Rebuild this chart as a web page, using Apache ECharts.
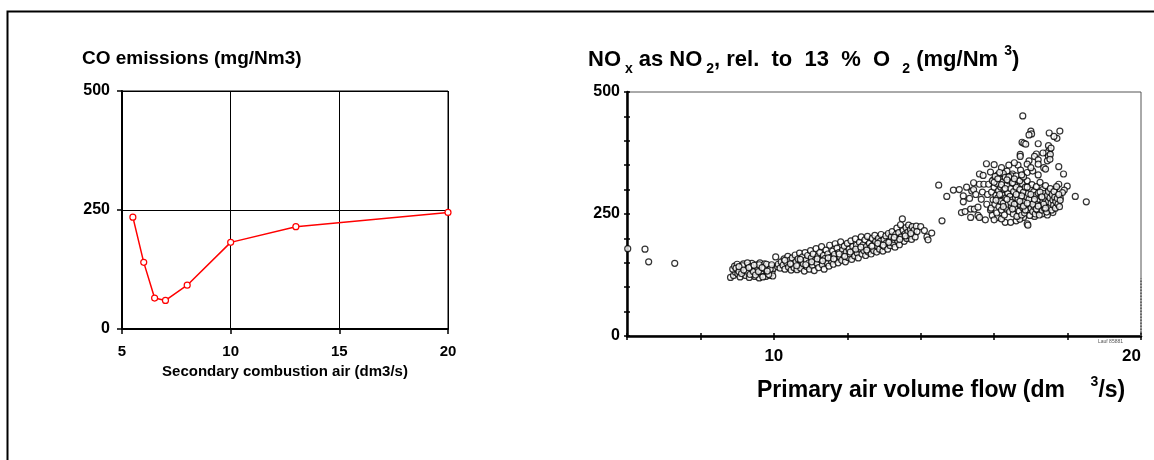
<!DOCTYPE html>
<html><head><meta charset="utf-8">
<script src="https://cdn.jsdelivr.net/npm/echarts@6/dist/echarts.min.js"></script>
<style>html,body{margin:0;padding:0;background:#fff}#c{width:1154px;height:460px}</style>
</head><body><div id="c"></div>
<script>
// Left chart: CO emissions vs secondary combustion air
const coAir = [5.5, 6, 6.5, 7, 8, 10, 13, 20];
const coEmission = [235, 140, 65, 60, 92, 182, 215, 245];
const leftXTicks = [5, 10, 15, 20];
const leftYTicks = [0, 250, 500];

// Right chart: NOx vs primary air volume flow  [flow, NOx]
const noxOutliers = [[6.02,179],[6.49,178],[6.59,152],[7.3,149],[14.49,309],[14.58,236],[14.71,286],[14.89,299]];
const noxLow = [[8.82,120],[8.9,124],[8.95,131],[8.88,137],[8.93,143],[9.0,147],[9.02,127],[9.08,121],[9.1,135],[9.13,141],[9.17,148],[9.2,130],[9.23,124],[9.27,138],[9.3,145],[9.33,120],[9.36,133],[9.4,149],[9.42,127],[9.45,140],[9.48,122],[9.5,135],[9.52,146],[9.55,129],[9.58,142],[9.6,119],[9.62,150],[9.64,136],[9.67,126],[9.7,144],[9.72,131],[9.75,148],[9.78,122],[9.8,139],[9.83,128],[9.85,145],[9.88,134],[9.9,124],[9.92,143],[9.95,130],[9.97,123],[9.98,138],[8.97,139],[9.05,132],[9.12,128],[9.15,144],[9.25,133],[9.28,150],[9.35,126],[9.38,142],[9.44,132],[9.5,125],[9.56,139],[9.6,146],[9.66,133],[9.7,121],[9.74,138],[9.8,147],[9.86,126],[9.9,137],[9.05,142],[9.18,135],[9.32,140],[9.46,145],[9.58,132],[9.68,140],[9.82,133],[9.94,146]];
const noxMid = [[10.05,162],[10.1,142],[10.12,147],[10.17,139],[10.2,152],[10.25,145],[10.28,158],[10.3,137],[10.35,150],[10.38,163],[10.4,141],[10.43,155],[10.47,135],[10.5,160],[10.52,147],[10.55,140],[10.58,166],[10.6,152],[10.63,136],[10.66,158],[10.68,145],[10.7,170],[10.73,139],[10.75,154],[10.78,162],[10.8,148],[10.83,133],[10.85,171],[10.88,156],[10.9,142],[10.92,165],[10.95,150],[10.97,137],[11.0,175],[11.02,160],[11.05,145],[11.07,168],[11.1,134],[11.12,155],[11.15,179],[11.17,149],[11.2,163],[11.22,140],[11.25,171],[11.27,156],[11.3,183],[11.32,146],[11.35,165],[11.37,137],[11.4,159],[11.42,176],[11.45,150],[11.47,168],[11.5,143],[11.52,186],[11.55,161],[11.57,153],[11.6,174],[11.62,147],[11.65,167],[11.67,189],[11.7,157],[11.72,180],[11.75,150],[11.77,171],[11.8,162],[11.82,193],[11.85,155],[11.87,176],[11.9,167],[11.92,184],[11.95,152],[11.97,172],[12.0,190],[12.02,161],[12.05,178],[12.07,168],[12.1,195],[12.12,157],[12.15,183],[12.17,173],[12.2,164],[12.22,199],[12.25,186],[12.27,170],[12.3,160],[12.33,192],[12.35,178],[12.38,203],[12.4,168],[12.43,187],[12.45,175],[12.48,197],[12.5,165],[12.52,183],[12.55,204],[12.57,172],[12.6,190],[12.62,180],[12.65,168],[12.68,200],[12.7,186],[12.72,175],[12.75,206],[12.77,193],[12.8,172],[12.82,184],[12.85,200],[12.88,178],[12.9,194],[12.92,208],[12.95,187],[12.97,174],[13.0,198],[13.02,183],[13.05,205],[13.07,191],[13.1,178],[13.12,210],[13.15,195],[13.17,185],[13.2,203],[13.22,214],[13.25,190],[13.27,198],[13.3,182],[13.32,208],[13.35,221],[13.37,195],[13.4,212],[13.42,187],[13.45,228],[13.47,203],[13.5,240],[13.52,216],[13.55,194],[13.57,209],[13.6,222],[13.62,200],[13.65,213],[13.67,227],[13.7,205],[13.72,218],[13.75,198],[13.77,224],[13.8,211],[13.82,217],[13.85,203],[13.88,225],[13.9,214],[14.0,224],[14.1,216],[14.17,203],[14.2,197],[14.3,211],[10.3,155],[10.45,148],[10.62,144],[10.72,157],[10.87,146],[11.03,152],[11.18,158],[11.33,154],[11.48,160],[11.63,158],[11.78,168],[11.93,163],[12.08,172],[12.23,178],[12.37,182],[12.53,176],[12.67,184],[12.83,190],[12.98,186],[13.13,192],[13.28,202],[13.43,198],[13.58,205],[13.73,210]];
const noxHighEdge = [[15.16,287],[15.33,282],[15.16,275],[15.11,253],[15.21,255],[15.36,243],[15.36,260],[15.46,260],[15.56,264],[15.56,247],[15.76,238],[15.6,243],[15.39,297],[15.44,300],[15.44,314],[15.6,311],[15.72,311],[15.85,311],[15.6,332],[15.7,329],[15.9,336],[16.0,351],[15.05,300],[15.25,305],[15.5,290],[15.65,280],[15.8,270],[15.68,295],[15.82,290],[15.9,258],[15.95,247],[15.98,320],[15.79,353],[16.4,350],[16.65,350],[17.35,345],[17.4,342],[16.2,345],[16.55,355],[16.72,340],[16.35,338],[16.1,330],[16.25,333],[16.5,332],[16.9,335],[17.05,338],[17.2,330],[17.89,332],[17.99,307],[18.21,286],[18.51,275],[17.76,311],[17.91,299],[17.86,294],[17.8,283],[17.7,290],[17.65,300],[16.3,233],[16.45,233],[16.6,236],[16.9,230],[16.92,227],[16.8,243],[16.1,243],[16.0,238],[17.6,253],[16.2,240],[16.7,239],[17.1,245],[17.3,250],[17.45,248]];
const noxSpike = [[16.78,451],[17.0,420],[17.02,414],[16.95,412],[17.5,416],[17.79,420],[17.71,405],[17.63,409],[16.76,397],[16.81,395],[16.86,393],[17.2,394],[17.48,390],[16.71,372],[16.71,368],[17.5,380],[17.42,375],[17.33,375],[17.15,373],[17.1,368],[17.2,361],[16.95,359],[17.48,368],[17.53,372],[17.45,359],[16.9,352],[17.2,352],[17.76,347],[17.55,385],[17.52,362],[17.0,345]];
const noxCore = [[15.92,262],[15.93,295],[15.95,318],[15.97,279],[16.0,305],[16.02,270],[16.03,327],[16.05,288],[16.07,252],[16.08,312],[16.1,283],[16.12,298],[16.13,265],[16.15,322],[16.17,276],[16.18,305],[16.2,258],[16.22,290],[16.23,316],[16.25,272],[16.27,300],[16.28,248],[16.3,325],[16.32,283],[16.33,262],[16.35,309],[16.37,293],[16.38,270],[16.4,318],[16.42,255],[16.43,286],[16.45,302],[16.47,266],[16.48,328],[16.5,279],[16.52,250],[16.53,296],[16.55,312],[16.57,262],[16.58,284],[16.6,305],[16.62,245],[16.63,273],[16.65,320],[16.67,290],[16.68,256],[16.7,300],[16.72,268],[16.73,282],[16.75,248],[16.77,312],[16.78,263],[16.8,295],[16.82,276],[16.83,252],[16.85,305],[16.87,266],[16.88,285],[16.9,318],[16.92,258],[16.93,292],[16.95,272],[16.97,247],[16.98,302],[17.0,262],[17.02,283],[17.03,310],[17.05,255],[17.07,276],[17.08,296],[17.1,265],[17.12,250],[17.13,288],[17.15,306],[17.17,270],[17.18,258],[17.2,293],[17.22,280],[17.23,248],[17.25,315],[17.27,268],[17.28,286],[17.3,258],[17.32,300],[17.33,276],[17.35,292],[17.37,262],[17.38,282],[17.4,308],[17.42,270],[17.43,254],[17.45,288],[17.47,275],[17.48,296],[17.5,264],[17.52,283],[17.53,302],[17.55,272],[17.57,258],[17.58,290],[17.6,278],[17.62,268],[17.63,296],[17.65,284],[17.67,262],[17.68,275],[17.7,306],[17.72,282],[17.74,270],[17.76,290],[17.78,265],[17.8,278],[16.45,274],[16.55,270],[16.65,280],[16.75,287],[16.85,258],[16.95,280],[17.05,270],[17.15,260],[17.25,295],[17.35,270],[16.5,260],[16.6,290],[16.7,276],[16.8,266],[16.9,272],[17.0,290],[17.1,280],[17.2,266],[17.3,285],[17.4,262],[16.35,280],[16.25,265],[16.15,290],[16.05,278],[16.0,315],[16.1,322],[16.2,310],[16.3,302],[16.4,326],[16.5,314],[16.6,328],[16.7,318],[16.8,326],[16.9,305],[16.15,335],[16.35,320],[16.55,322],[16.75,330]];
const rightXLabels = [10, 20];
const rightYLabels = [0, 250, 500];
const rightEdgeDotted = [[20, 0], [20, 118]];

const FF = 'Liberation Sans';
const chart = echarts.init(document.getElementById('c'), null, {renderer: 'canvas'});
const coData = coAir.map((x, i) => [x, coEmission[i]]);
const noxAll = [].concat(noxOutliers, noxLow, noxMid, noxHighEdge, noxSpike, noxCore);
const bold = (s) => ({fontFamily: FF, fontWeight: 'bold', fontSize: s, color: '#000'});

const option = {
  animation: false,
  backgroundColor: '#fff',
  title: [
    {text: 'CO emissions (mg/Nm3)', left: 82, top: 49, padding: 0, textStyle: bold(19)},
    {text: '{a|NO}{s| x}{a| as NO}{s| 2}{a|, rel.  to  13  %  O  }{s|2}{a| (mg/Nm }{p|3}{a|)}', left: 588, top: 44, padding: 0,
     textStyle: {rich: {
       a: Object.assign(bold(22), {lineHeight: 32, verticalAlign: 'middle'}),
       s: Object.assign(bold(14), {lineHeight: 14, verticalAlign: 'bottom'}),
       p: Object.assign(bold(14), {lineHeight: 14, verticalAlign: 'top'})
     }}},
    {text: '{a|Primary air volume flow (dm    }{p|3}{a|/s)}', left: 757, top: 375, padding: 0,
     textStyle: {rich: {
       a: Object.assign(bold(23), {lineHeight: 32, verticalAlign: 'middle'}),
       p: Object.assign(bold(14), {lineHeight: 14, verticalAlign: 'top'})
     }}}
  ],
  grid: [
    {left: 122, top: 91, width: 326, height: 238, show: true, borderColor: '#000', borderWidth: 1, backgroundColor: 'transparent'},
    {left: 627, top: 92, width: 514, height: 244, show: true, borderColor: '#555', borderWidth: 1, backgroundColor: 'transparent'}
  ],
  xAxis: [
    {type: 'value', gridIndex: 0, min: 5, max: 20, interval: 5, position: 'bottom',
     axisLine: {lineStyle: {color: '#000', width: 2}},
     axisTick: {length: 5, lineStyle: {color: '#000', width: 1.5}},
     axisLabel: Object.assign(bold(15), {margin: 15, formatter: v => leftXTicks.includes(v) ? String(v) : ''}),
     splitLine: {show: true, lineStyle: {color: '#000', width: 1}},
     name: 'Secondary combustion air (dm3/s)', nameLocation: 'middle', nameGap: 35,
     nameTextStyle: bold(15)},
    {type: 'value', gridIndex: 1, min: 6, max: 20, interval: 2, position: 'bottom',
     axisLine: {lineStyle: {color: '#000', width: 2.5}},
     axisTick: {length: 4, lineStyle: {color: '#000', width: 1.5}},
     axisLabel: Object.assign(bold(17), {margin: 12, showMaxLabel: true, alignMaxLabel: 'right',
       formatter: v => rightXLabels.includes(v) ? String(v) : ''}),
     splitLine: {show: false}},
    {type: 'value', gridIndex: 1, min: 6, max: 20, interval: 2, position: 'bottom',
     axisLine: {show: false},
     axisTick: {inside: true, length: 3, lineStyle: {color: '#000', width: 1.5}},
     axisLabel: {show: false}, splitLine: {show: false}}
  ],
  yAxis: [
    {type: 'value', gridIndex: 0, min: 0, max: 500, interval: 250, position: 'left',
     axisLine: {show: true, lineStyle: {color: '#000', width: 2}},
     axisTick: {show: true, length: 5, lineStyle: {color: '#000', width: 1.5}},
     axisLabel: Object.assign(bold(16), {margin: 12, formatter: v => leftYTicks.includes(v) ? String(v) : ''}),
     splitLine: {show: true, lineStyle: {color: '#000', width: 1}}},
    {type: 'value', gridIndex: 1, min: 0, max: 500, interval: 50, position: 'left',
     axisLine: {show: true, lineStyle: {color: '#000', width: 2.5}},
     axisTick: {show: true, length: 3, lineStyle: {color: '#000', width: 1.5}},
     axisLabel: Object.assign(bold(16), {margin: 7, formatter: v => rightYLabels.includes(v) ? String(v) : ''}),
     splitLine: {show: false}},
    {type: 'value', gridIndex: 1, min: 0, max: 500, interval: 50, position: 'left',
     axisLine: {show: false},
     axisTick: {show: true, inside: true, length: 3, lineStyle: {color: '#000', width: 1.5}},
     axisLabel: {show: false}, splitLine: {show: false}}
  ],
  series: [
    {type: 'line', xAxisIndex: 0, yAxisIndex: 0, data: coData,
     lineStyle: {color: '#ff0000', width: 1.5}, symbol: 'circle', symbolSize: 6,
     itemStyle: {color: '#fff', borderColor: '#ff0000', borderWidth: 1.2}, z: 5},
    {type: 'line', xAxisIndex: 1, yAxisIndex: 1, data: rightEdgeDotted, symbol: 'none',
     lineStyle: {color: '#555', width: 1.5, type: 'dotted'}, z: 3},
    {type: 'scatter', xAxisIndex: 1, yAxisIndex: 1, data: noxAll, symbol: 'circle', symbolSize: 6,
     itemStyle: {color: '#fff', borderColor: '#000', borderWidth: 1.2}, z: 4}
  ],
  graphic: [
    {type: 'rect', shape: {x: 7.5, y: 11.5, width: 1200, height: 500}, style: {fill: 'none', stroke: '#000', lineWidth: 2}, silent: true},
    {type: 'text', left: 1098, top: 339, style: {text: 'Lauf 85881', fontSize: 5, fontFamily: FF, fill: '#555'}}
  ]
};
chart.setOption(option);
</script>
</body></html>
